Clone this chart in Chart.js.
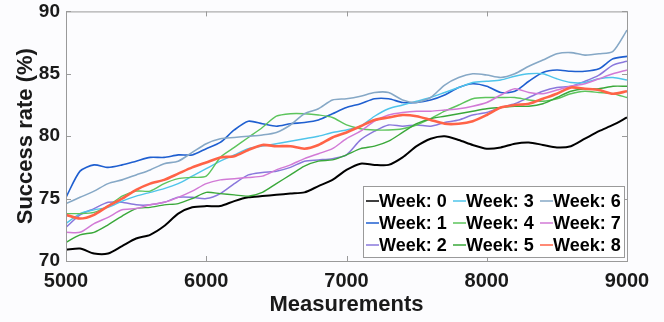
<!DOCTYPE html>
<html>
<head>
<meta charset="utf-8">
<script src="https://cdn.jsdelivr.net/npm/chart.js@4.4.1/dist/chart.umd.min.js"></script>
<style>
    html, body { margin: 0; padding: 0; background: #fcfcfe; }
    #chart { display: block; }
</style>
</head>
<body>
<canvas id="chart" width="664" height="322"></canvas>
<script>
// x positions (number of measurements)
const measurements = [5000, 5100, 5200, 5300, 5400, 5500, 5600, 5700, 5800, 5900,
    6000, 6100, 6200, 6300, 6400, 6500, 6600, 6700, 6800, 6900,
    7000, 7100, 7200, 7300, 7400, 7500, 7600, 7700, 7800, 7900,
    8000, 8100, 8200, 8300, 8400, 8500, 8600, 8700, 8800, 8900, 9000];

// success rate (%) per week
const week0 = [70.9, 71.0, 70.6, 70.6, 71.2, 71.8, 72.1, 72.8, 73.8, 74.3,
    74.4, 74.4, 74.8, 75.1, 75.2, 75.3, 75.4, 75.5, 76.0, 76.5,
    77.3, 77.8, 77.7, 77.7, 78.3, 79.2, 79.8, 80.0, 79.7, 79.3,
    79.0, 79.1, 79.4, 79.5, 79.3, 79.1, 79.2, 79.8, 80.4, 80.9, 81.5];
const week1 = [75.1, 77.2, 77.7, 77.5, 77.7, 78.0, 78.3, 78.3, 78.5, 78.5,
    79.0, 79.5, 80.5, 81.2, 81.0, 80.8, 81.0, 81.1, 81.3, 81.8,
    82.3, 82.6, 83.0, 83.0, 82.7, 82.7, 82.9, 83.3, 83.9, 84.2,
    84.0, 83.5, 83.6, 84.4, 85.1, 85.3, 85.2, 85.2, 85.4, 86.2, 86.4];
const week2 = [72.7, 73.7, 74.2, 74.7, 74.7, 74.5, 74.5, 74.7, 75.1, 75.1,
    75.0, 75.4, 76.2, 76.9, 77.1, 77.2, 77.5, 78.0, 78.1, 78.2,
    78.5, 79.7, 80.4, 80.9, 80.8, 80.9, 80.8, 81.1, 81.3, 81.7,
    81.9, 82.3, 82.6, 83.1, 83.6, 83.9, 84.0, 84.4, 84.9, 85.7, 86.0];
const week3 = [73.0, 73.8, 74.1, 74.3, 74.8, 75.2, 75.5, 75.8, 76.2, 76.8,
    77.4, 78.0, 78.5, 79.0, 79.2, 79.4, 79.6, 79.8, 80.0, 80.3,
    80.5, 80.8, 81.6, 82.2, 82.5, 82.8, 83.1, 83.5, 83.9, 84.3,
    84.4, 84.5, 84.8, 85.0, 85.0, 84.6, 84.3, 84.3, 84.6, 84.7, 84.5];
const week4 = [73.8, 73.8, 73.9, 74.4, 75.2, 75.6, 75.6, 76.2, 76.6, 76.7,
    76.8, 78.3, 79.1, 79.9, 80.7, 81.6, 81.8, 81.8, 81.7, 81.5,
    80.9, 80.6, 80.5, 80.5, 80.6, 80.9, 81.4, 82.0, 82.5, 83.0,
    83.1, 83.1, 83.1, 82.9, 82.8, 83.0, 83.4, 83.6, 83.5, 83.4, 83.1];
const week5 = [71.5, 72.1, 72.3, 72.9, 73.6, 74.2, 74.3, 74.5, 74.6, 75.0,
    75.5, 75.4, 75.3, 75.2, 75.5, 76.2, 76.9, 77.6, 78.0, 78.1,
    78.5, 79.0, 79.2, 79.6, 80.3, 81.0, 81.4, 81.6, 81.8, 82.0,
    82.2, 82.3, 82.4, 82.4, 82.6, 83.1, 83.6, 83.8, 83.8, 84.0, 84.0];
const week6 = [74.6, 75.1, 75.6, 76.2, 76.5, 76.9, 77.3, 77.8, 78.0, 78.7,
    79.4, 79.8, 79.9, 80.0, 80.1, 80.3, 80.9, 81.8, 82.2, 82.9,
    83.0, 83.2, 83.5, 83.5, 82.9, 82.7, 83.1, 84.1, 84.7, 85.0,
    84.9, 84.7, 85.0, 85.6, 86.1, 86.6, 86.7, 86.5, 86.6, 86.8, 88.5];
const week7 = [72.3, 72.3, 73.0, 73.5, 74.1, 74.2, 74.5, 74.7, 75.1, 75.6,
    76.2, 76.5, 76.6, 76.7, 76.8, 77.3, 77.7, 78.2, 78.6, 79.0,
    79.8, 80.4, 81.2, 81.7, 81.9, 82.0, 82.0, 82.1, 82.2, 82.4,
    82.7, 83.3, 83.8, 83.5, 83.4, 83.7, 84.0, 84.2, 84.6, 85.0, 85.3];
const week8 = [73.7, 73.4, 73.7, 74.4, 75.0, 75.7, 76.2, 76.5, 77.0, 77.5,
    77.9, 78.3, 78.4, 78.9, 79.3, 79.2, 79.2, 79.0, 79.3, 79.9,
    80.3, 80.8, 81.3, 81.5, 81.7, 81.6, 81.3, 81.0, 81.0, 81.2,
    81.7, 82.3, 82.5, 82.6, 83.0, 83.4, 83.9, 83.8, 83.7, 83.4, 83.6];

const weekLabels = ['Week: 0', 'Week: 1', 'Week: 2', 'Week: 3', 'Week: 4',
    'Week: 5', 'Week: 6', 'Week: 7', 'Week: 8'];
const weekSeries = [week0, week1, week2, week3, week4, week5, week6, week7, week8];
const weekColors = ['#000000', '#1f5fd0', '#8a78dc', '#4fc4ea', '#5cc45c',
    '#3aa83a', '#86a8c6', '#d27ad6', '#ff6347'];
const weekWidths = [2, 1.6, 1.5, 1.4, 1.4, 1.4, 1.6, 1.5, 2.6];

const xTicks = [5000, 6000, 7000, 8000, 9000];
const yTicks = [70, 75, 80, 85, 90];

const FONT = "'Liberation Sans', Arial, sans-serif";
const AXIS_COLOR = '#9a9a9a';
const TEXT_COLOR = '#1a1a1a';

// matlab style box with inward ticks on all 4 sides
const boxPlugin = {
    id: 'boxPlugin',
    afterDatasetsDraw(chart) {
        const {ctx, chartArea: a, scales: {x, y}} = chart;
        ctx.save();
        ctx.strokeStyle = AXIS_COLOR;
        ctx.lineWidth = 1;
        ctx.strokeRect(a.left + 0.5, a.top + 0.5, a.right - a.left, a.bottom - a.top);
        const len = 5;
        ctx.beginPath();
        xTicks.forEach(v => {
            const px = Math.round(x.getPixelForValue(v)) + 0.5;
            ctx.moveTo(px, a.bottom);
            ctx.lineTo(px, a.bottom - len);
            ctx.moveTo(px, a.top);
            ctx.lineTo(px, a.top + len);
        });
        yTicks.forEach(v => {
            const py = Math.round(y.getPixelForValue(v)) + 0.5;
            ctx.moveTo(a.left, py);
            ctx.lineTo(a.left + len, py);
            ctx.moveTo(a.right, py);
            ctx.lineTo(a.right - len, py);
        });
        ctx.stroke();
        ctx.restore();
    }
};

// legend inside the axes, 3 columns, filled column by column
const boxLegend = {
    id: 'boxLegend',
    afterDraw(chart) {
        const {ctx, chartArea: a} = chart;
        const boxRight = a.right - 3;
        const boxBottom = a.bottom - 4;
        const boxW = 261;
        const boxH = 71;
        const left = boxRight - boxW;
        const top = boxBottom - boxH;
        ctx.save();
        ctx.fillStyle = '#ffffff';
        ctx.fillRect(left, top, boxW, boxH);
        ctx.strokeStyle = AXIS_COLOR;
        ctx.lineWidth = 1;
        ctx.strokeRect(left + 0.5, top + 0.5, boxW, boxH);
        ctx.font = 'bold 18px ' + FONT;
        ctx.textBaseline = 'middle';
        ctx.textAlign = 'left';
        chart.data.datasets.forEach((ds, i) => {
            const col = Math.floor(i / 3);
            const row = i % 3;
            const x0 = left + 3 + col * 87;
            const yc = top + 15 + row * 22;
            ctx.strokeStyle = ds.borderColor;
            ctx.lineWidth = 1.5;
            ctx.beginPath();
            ctx.moveTo(x0, yc);
            ctx.lineTo(x0 + 13, yc);
            ctx.stroke();
            ctx.fillStyle = '#000000';
            ctx.fillText(ds.label, x0 + 13, yc + 1);
        });
        ctx.restore();
    }
};

const datasets = weekSeries.map((series, i) => ({
    label: weekLabels[i],
    data: series.map((v, k) => ({x: measurements[k], y: v})),
    borderColor: weekColors[i],
    backgroundColor: weekColors[i],
    borderWidth: weekWidths[i],
    pointRadius: 0,
    tension: 0.25,
    fill: false,
    order: weekSeries.length - i
}));

// invisible tick marks just to push the labels away from the axis
const hiddenTicks = (len) => ({
    display: true,
    drawOnChartArea: false,
    drawTicks: true,
    tickLength: len,
    tickColor: 'rgba(0,0,0,0)'
});

new Chart(document.getElementById('chart'), {
    type: 'line',
    data: {datasets},
    options: {
        responsive: false,
        animation: false,
        layout: {padding: {left: 0, right: 37, top: 11, bottom: 0}},
        plugins: {
            legend: {display: false},
            tooltip: {enabled: false}
        },
        scales: {
            x: {
                type: 'linear',
                min: 5000,
                max: 9000,
                grid: hiddenTicks(8),
                border: {display: false},
                afterBuildTicks: scale => {
                    scale.ticks = xTicks.map(v => ({value: v}));
                },
                afterFit: scale => {
                    scale.height = 61;
                },
                ticks: {
                    color: TEXT_COLOR,
                    padding: 0,
                    maxRotation: 0,
                    font: {family: FONT, size: 20, weight: 'bold'},
                    callback: v => String(v)
                },
                title: {
                    display: true,
                    text: 'Measurements',
                    color: TEXT_COLOR,
                    font: {family: FONT, size: 22, weight: 'bold'},
                    padding: {top: 0, bottom: 4}
                }
            },
            y: {
                min: 70,
                max: 90,
                grid: hiddenTicks(6),
                border: {display: false},
                afterBuildTicks: scale => {
                    scale.ticks = yTicks.map(v => ({value: v}));
                },
                afterFit: scale => {
                    scale.width = 66;
                },
                ticks: {
                    color: TEXT_COLOR,
                    padding: 0,
                    font: {family: FONT, size: 19, weight: 'bold'}
                },
                title: {
                    display: true,
                    text: 'Success rate (%)',
                    color: TEXT_COLOR,
                    font: {family: FONT, size: 22, weight: 'bold'},
                    padding: {top: 13, bottom: 0}
                }
            }
        }
    },
    plugins: [boxPlugin, boxLegend]
});
</script>
</body>
</html>
